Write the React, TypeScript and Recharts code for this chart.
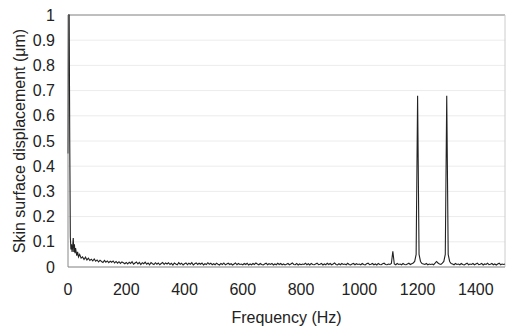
import { LineChart, Line, XAxis, YAxis, CartesianGrid, ReferenceLine } from 'recharts'

// low-frequency part, uneven spacing (Hz)
const lowFreq = [0, 2, 4, 6, 8, 10, 12, 14, 16, 18, 20, 22, 24, 26, 28, 30, 33, 36, 40, 45]
const lowVals = [
  0.45, 1, 1, 0.5, 0.12, 0.07, 0.09, 0.06, 0.08, 0.115, 0.06, 0.09, 0.055, 0.075, 0.06, 0.045,
  0.06, 0.04, 0.05, 0.035,
]

// 5 Hz bins from 50 Hz
const band50 = [
  0.04, 0.03, 0.039, 0.028, 0.035, 0.026, 0.031, 0.024, 0.032, 0.023,
  0.028, 0.02, 0.027, 0.022, 0.018, 0.026, 0.019, 0.024, 0.017, 0.023,
  0.019, 0.024, 0.016, 0.022, 0.015, 0.021, 0.014, 0.02, 0.017, 0.013,
  0.018, 0.012, 0.019, 0.014, 0.021, 0.011, 0.016, 0.02, 0.012, 0.018,
  0.01, 0.017, 0.013, 0.019, 0.011, 0.016, 0.009, 0.018, 0.013, 0.01,
  0.017, 0.011, 0.016, 0.009, 0.014, 0.018, 0.01, 0.016, 0.012, 0.017,
  0.01, 0.015, 0.008, 0.016, 0.012, 0.009, 0.017, 0.011, 0.015, 0.008,
  0.013, 0.016, 0.009, 0.015, 0.011, 0.017, 0.008, 0.013, 0.016, 0.01,
  0.015, 0.011, 0.016, 0.008, 0.013, 0.01, 0.017, 0.011, 0.015, 0.009,
]

// 5 Hz bins from 500 Hz
const band500 = [
  0.013, 0.009, 0.015, 0.011, 0.008, 0.014, 0.01, 0.016, 0.009, 0.012,
  0.015, 0.01, 0.013, 0.008, 0.012, 0.016, 0.009, 0.014, 0.01, 0.012,
  0.009, 0.014, 0.01, 0.015, 0.008, 0.012, 0.009, 0.014, 0.01, 0.016,
  0.012, 0.009, 0.014, 0.01, 0.008, 0.012, 0.015, 0.009, 0.013, 0.01,
  0.014, 0.008, 0.012, 0.009, 0.015, 0.01, 0.014, 0.009, 0.012, 0.008,
  0.011, 0.014, 0.009, 0.012, 0.016, 0.01, 0.009, 0.014, 0.008, 0.012,
  0.009, 0.012, 0.01, 0.015, 0.009, 0.013, 0.008, 0.014, 0.01, 0.009,
  0.012, 0.015, 0.009, 0.011, 0.014, 0.008, 0.012, 0.009, 0.015, 0.01,
  0.014, 0.009, 0.012, 0.016, 0.01, 0.008, 0.013, 0.009, 0.014, 0.01,
  0.012, 0.009, 0.015, 0.01, 0.008, 0.012, 0.014, 0.009, 0.013, 0.01,
]

// 5 Hz bins from 1000 Hz, with the peaks
const band1000 = [
  0.012, 0.009, 0.014, 0.01, 0.008, 0.013, 0.015, 0.009, 0.011, 0.014,
  0.009, 0.012, 0.008, 0.014, 0.01, 0.009, 0.013, 0.015, 0.01, 0.009,
  0.012, 0.01, 0.014, 0.062, 0.012, 0.009, 0.014, 0.01, 0.012, 0.009,
  0.014, 0.01, 0.009, 0.012, 0.015, 0.01, 0.013, 0.016, 0.022, 0.05,
  0.68, 0.05, 0.022, 0.014, 0.012, 0.01, 0.014, 0.009, 0.012, 0.01,
  0.012, 0.009, 0.015, 0.022, 0.016, 0.012, 0.01, 0.015, 0.022, 0.05,
  0.68, 0.05, 0.022, 0.014, 0.012, 0.009, 0.014, 0.01, 0.012, 0.009,
  0.014, 0.01, 0.008, 0.012, 0.015, 0.009, 0.012, 0.01, 0.014, 0.009,
  0.012, 0.015, 0.009, 0.011, 0.014, 0.008, 0.012, 0.01, 0.015, 0.009,
  0.011, 0.014, 0.009, 0.012, 0.008, 0.012, 0.015, 0.009, 0.012, 0.01,
  0.012,
]

const xTicks = [0, 200, 400, 600, 800, 1000, 1200, 1400]
const yTicks = [0, 0.1, 0.2, 0.3, 0.4, 0.5, 0.6, 0.7, 0.8, 0.9, 1]

const data = [
  ...lowFreq.map((f, i) => ({ f, v: lowVals[i] })),
  ...band50.map((v, i) => ({ f: 50 + i * 5, v })),
  ...band500.map((v, i) => ({ f: 500 + i * 5, v })),
  ...band1000.map((v, i) => ({ f: 1000 + i * 5, v })),
]

const tick = { fill: '#222', fontSize: 16 }

export default function App() {
  return (
    <div style={{ position: 'absolute', left: 0, top: 0, width: 506, height: 327, background: '#fff', fontFamily: '"Liberation Sans", Arial, sans-serif' }}>
      <LineChart width={506} height={327} data={data} margin={{ top: 15, right: 1, left: 0, bottom: 0 }}>
        <CartesianGrid vertical={false} stroke="#ececec" />
        <XAxis
          dataKey="f"
          type="number"
          domain={[0, 1500]}
          ticks={xTicks}
          tick={tick}
          tickLine={false}
          tickMargin={11}
          height={60}
          stroke="#888"
          label={{ value: 'Frequency (Hz)', position: 'insideBottom', offset: 4, fill: '#222', fontSize: 16 }}
        />
        <YAxis
          type="number"
          domain={[0, 1]}
          ticks={yTicks}
          tick={tick}
          tickLine={false}
          tickMargin={7}
          width={68}
          stroke="#888"
          label={{
            value: 'Skin surface displacement (μm)',
            angle: -90,
            position: 'insideLeft',
            offset: 19,
            fill: '#222',
            fontSize: 16,
            style: { textAnchor: 'middle' },
          }}
        />
        <ReferenceLine y={1} stroke="#888" />
        <ReferenceLine x={1500} stroke="#ccc" />
        <Line type="linear" dataKey="v" stroke="#222" strokeWidth={1.1} dot={false} isAnimationActive={false} />
      </LineChart>
    </div>
  )
}
